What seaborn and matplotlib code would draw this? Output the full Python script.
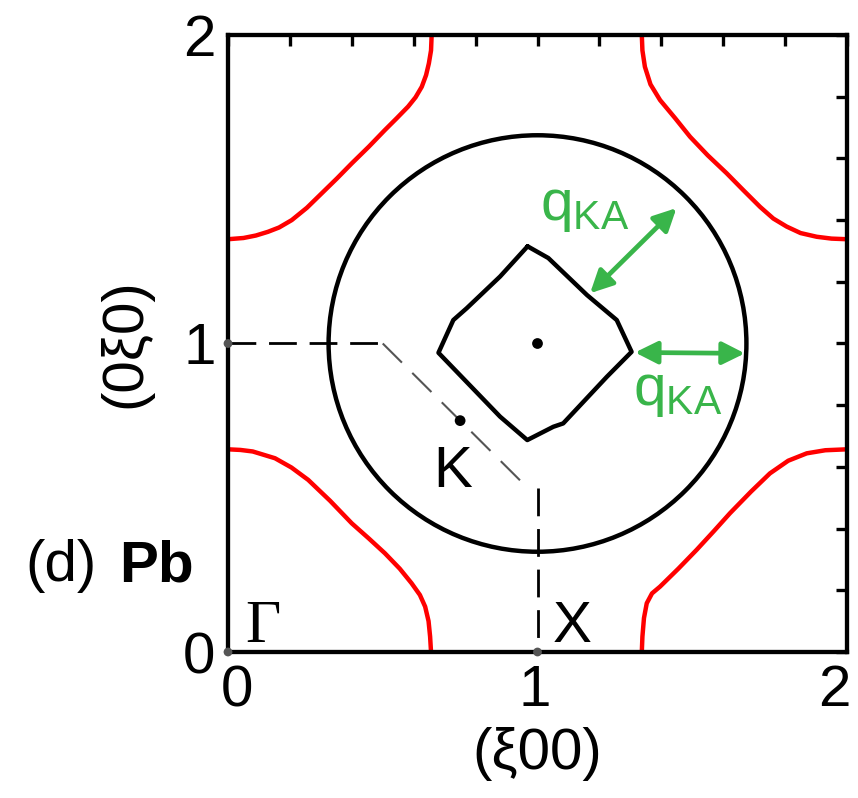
import numpy as np
import pandas as pd
import matplotlib
matplotlib.use("Agg")
import matplotlib.pyplot as plt
from matplotlib.patches import Circle
from matplotlib.transforms import ScaledTranslation
import seaborn as sns

# Fermi-surface cross sections of Pb in the (kx, ky) plane, in units of 2π/a
# Outer (red) sheets around the four zone corners
red_tl_x = [0.658, 0.656, 0.649, 0.640, 0.626, 0.606, 0.582, 0.545, 0.507, 0.455, 0.400,
            0.352, 0.303, 0.255, 0.206, 0.165, 0.129, 0.090, 0.050, 0.000]
red_tl_y = [2.000, 1.950, 1.908, 1.870, 1.832, 1.798, 1.768, 1.730, 1.692, 1.638, 1.584,
            1.535, 1.487, 1.440, 1.400, 1.376, 1.362, 1.350, 1.342, 1.338]
red_bl_x = [0.000, 0.040, 0.080, 0.152, 0.205, 0.259, 0.330, 0.400, 0.455, 0.507, 0.555,
            0.593, 0.620, 0.637, 0.648, 0.653, 0.656]
red_bl_y = [0.657, 0.655, 0.650, 0.628, 0.598, 0.558, 0.490, 0.417, 0.368, 0.320, 0.270,
            0.223, 0.185, 0.147, 0.100, 0.050, 0.000]
red_br_x = [1.337, 1.339, 1.344, 1.353, 1.370, 1.396, 1.455, 1.514, 1.570, 1.622, 1.690,
            1.751, 1.810, 1.870, 1.930, 2.000]
red_br_y = [0.000, 0.050, 0.110, 0.158, 0.190, 0.212, 0.270, 0.331, 0.392, 0.450, 0.520,
            0.579, 0.620, 0.644, 0.654, 0.657]
red_tr_x = [1.337, 1.339, 1.347, 1.365, 1.396, 1.445, 1.493, 1.550, 1.611, 1.665, 1.719,
            1.762, 1.805, 1.850, 1.902, 1.950, 2.000]
red_tr_y = [2.000, 1.950, 1.897, 1.840, 1.789, 1.730, 1.670, 1.610, 1.552, 1.497, 1.443,
            1.405, 1.379, 1.358, 1.346, 1.340, 1.338]

# Large (black) sheet centred on (1, 1)
circle_center = (1.0, 1.0)
circle_radius = 0.675

# Inner (black) pocket around (1, 1)
pocket_x = [0.968, 1.035, 1.160, 1.256, 1.304, 1.224, 1.083, 1.051, 0.967, 0.879, 0.680,
            0.728, 0.771, 0.879, 0.968]
pocket_y = [1.315, 1.277, 1.157, 1.076, 0.973, 0.892, 0.741, 0.730, 0.687, 0.763, 0.970,
            1.076, 1.114, 1.217, 1.315]

# Brillouin-zone guide lines and symmetry points
bz_horiz_x = [0.0, 0.5]
bz_horiz_y = [1.0, 1.0]
bz_diag_x = [0.5, 0.97]
bz_diag_y = [1.0, 0.53]
bz_vert_x = [1.0, 1.0]
bz_vert_y = [0.53, 0.0]
sym_points_x = [0.75, 1.0]
sym_points_y = [0.75, 1.0]
edge_points_x = [0.0, 0.0, 1.0]
edge_points_y = [1.0, 0.0, 0.0]

# Nesting vectors q_KA (tail, head)
q_diag = ((1.170, 1.163), (1.449, 1.439))
q_horiz = ((1.315, 0.971), (1.670, 0.968))

tick_major = [0, 1, 2]
tick_minor = [0.2, 0.4, 0.6, 0.8, 1.2, 1.4, 1.6, 1.8]

sns.set_style("white")
plt.rcParams["font.family"] = ["Liberation Sans", "DejaVu Sans"]
plt.rcParams["mathtext.fontset"] = "custom"
plt.rcParams["mathtext.rm"] = "Liberation Sans"
for key in ["text.color", "axes.labelcolor", "xtick.color", "ytick.color"]:
    plt.rcParams[key] = "black"

W, H = 858, 798
fig = plt.figure(figsize=(W / 100, H / 100), dpi=100)
ax = fig.add_axes([228 / W, 1 - 652 / H, (847 - 228) / W, (652 - 35) / H])

red = "#ff0000"
green = "#39b54a"
fs = 42
lw_curve = 3.2

for xs, ys in [(red_tl_x, red_tl_y), (red_bl_x, red_bl_y),
               (red_br_x, red_br_y), (red_tr_x, red_tr_y)]:
    sns.lineplot(x=xs, y=ys, sort=False, estimator=None, color=red, lw=lw_curve, ax=ax,
                 solid_joinstyle="round", solid_capstyle="butt")

ax.add_patch(Circle(circle_center, circle_radius, fill=False, ec="black", lw=lw_curve))
sns.lineplot(x=pocket_x, y=pocket_y, sort=False, estimator=None, color="black", lw=lw_curve,
             ax=ax, solid_joinstyle="round")

ax.plot(bz_horiz_x, bz_horiz_y, color="black", lw=2.0, dashes=(10, 4.6))
ax.plot(bz_diag_x, bz_diag_y, color="#555555", lw=1.5, dashes=(13, 7))
ax.plot(bz_vert_x, bz_vert_y, color="black", lw=2.0, dashes=(10, 4.6))

sns.scatterplot(x=sym_points_x, y=sym_points_y, color="black", s=60, edgecolor="none",
                ax=ax, zorder=5)
ax.scatter(edge_points_x, edge_points_y, color="#555555", s=40, edgecolors="none",
           clip_on=False, zorder=6)

arrow_kw = dict(arrowstyle="<|-|>", color=green, lw=3.4, mutation_scale=34,
                shrinkA=0, shrinkB=0)
ax.annotate("", xy=q_diag[1], xytext=q_diag[0], arrowprops=arrow_kw)
ax.annotate("", xy=q_horiz[1], xytext=q_horiz[0], arrowprops=arrow_kw)

ax.text(1.008, 1.40, r"$\mathregular{q_{KA}}$", color=green, fontsize=fs, ha="left", va="baseline")
ax.text(1.309, 0.80, r"$\mathregular{q_{KA}}$", color=green, fontsize=fs, ha="left", va="baseline")

ax.text(0.055, 0.032, "Γ", fontsize=fs + 2, family="Liberation Serif", ha="left", va="baseline")
ax.text(1.05, 0.032, "X", fontsize=fs, ha="left", va="baseline")
ax.text(0.663, 0.535, "K", fontsize=fs, ha="left", va="baseline")

fig.text(25 / W, 1 - 581 / H, "(d)", fontsize=fs, ha="left", va="baseline")
fig.text(119 / W, 1 - 581 / H, "Pb", fontsize=fs, fontweight="bold", ha="left", va="baseline")

ax.set_xlim(0, 2)
ax.set_ylim(0, 2)
ax.set_xticks(tick_major)
ax.set_yticks(tick_major)
ax.set_xticks(tick_minor, minor=True)
ax.set_yticks(tick_minor, minor=True)
ax.set_xticklabels([str(t) for t in tick_major])
ax.set_yticklabels([str(t) for t in tick_major])
ax.tick_params(which="both", direction="in", top=True, right=True,
               length=8, width=2.4, labelsize=fs, pad=9)
for sp in ax.spines.values():
    sp.set_linewidth(3.1)
    sp.set_color("black")

# nudge the x tick labels so the outer ones sit inside the figure
for lab, dx_px in zip(ax.get_xticklabels(), [9, -3, -13]):
    lab.set_transform(lab.get_transform() + ScaledTranslation(dx_px / 100, 0, fig.dpi_scale_trans))

ax.set_xlabel("(ξ00)", fontsize=fs, labelpad=6)
ax.set_ylabel("(0ξ0)", fontsize=fs, labelpad=22)

fig.savefig("out.png", dpi=100)
